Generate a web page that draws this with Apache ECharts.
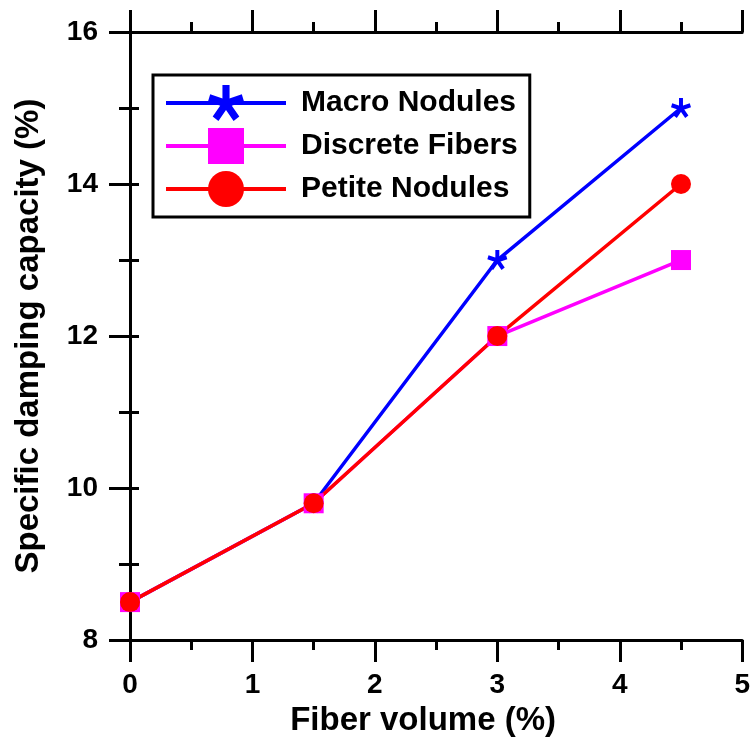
<!DOCTYPE html>
<html><head><meta charset="utf-8">
<script src="https://cdn.jsdelivr.net/npm/echarts@6/dist/echarts.min.js"></script>
<style>html,body{margin:0;padding:0;background:#fff}#c{width:753px;height:742px}</style>
</head><body><div id="c"></div>
<script>
const fiberVolume = [0, 1.5, 3, 4.5];
const macroNodules = [8.5, 9.8, 13, 15];
const discreteFibers = [8.5, 9.8, 12, 13];
const petiteNodules = [8.5, 9.8, 12, 14];
const seriesNames = ['Macro Nodules', 'Discrete Fibers', 'Petite Nodules'];

const star = 'path://M12 12.5L12 0L8 0L8 12.5Z' +
  'M8.24 12.675L20.129 8.812L18.893 5.008L7.004 8.871Z' +
  'M6.912 9.153L14.26 19.266L17.496 16.914L10.148 6.801Z' +
  'M9.852 6.801L2.504 16.914L5.74 19.266L13.088 9.153Z' +
  'M12.996 8.871L1.107 5.008L-0.129 8.812L11.76 12.675Z';
const F = '"Liberation Sans", Arial, sans-serif';
const pts = v => fiberVolume.map((x, i) => [x, v[i]]);
const axLine = {show: true, lineStyle: {color: '#000', width: 3}};
const lbl = {fontFamily: F, fontWeight: 'bold', fontSize: 28, color: '#000'};
const ttl = {fontFamily: F, fontWeight: 'bold', fontSize: 33, color: '#000'};

const chart = echarts.init(document.getElementById('c'));
chart.setOption({
  animation: false,
  backgroundColor: '#fff',
  grid: {left: 130, right: 8, top: 32, bottom: 99},
  legend: {
    orient: 'vertical', left: 153, top: 75,
    padding: [10, 12, 10, 11],
    borderColor: '#000', borderWidth: 3,
    itemWidth: 120, itemHeight: 45, itemGap: 7,
    lineStyle: {width: 4},
    data: seriesNames,
    textStyle: {fontFamily: F, fontWeight: 'bold', fontSize: 30, color: '#000', padding: [0, 0, 0, 10]}
  },
  xAxis: [{
    type: 'value', min: 0, max: 5, interval: 1, position: 'bottom',
    name: 'Fiber volume (%)', nameLocation: 'middle', nameGap: 58,
    nameTextStyle: Object.assign({padding: [0, 26, 0, 0]}, ttl),
    axisLine: axLine, axisTick: {show: true, length: 22, lineStyle: {color: '#000', width: 3}},
    minorTick: {show: true, splitNumber: 2, length: 10, lineStyle: {color: '#000', width: 3}},
    axisLabel: Object.assign({margin: 31}, lbl),
    splitLine: {show: false}
  }, {
    type: 'value', min: 0, max: 5, interval: 1, position: 'top',
    axisLine: axLine, axisTick: {show: true, length: 22, lineStyle: {color: '#000', width: 3}},
    minorTick: {show: true, splitNumber: 2, length: 10, lineStyle: {color: '#000', width: 3}},
    axisLabel: {show: false}, splitLine: {show: false}
  }],
  yAxis: [{
    type: 'value', min: 8, max: 16, interval: 2, position: 'left',
    name: 'Specific damping capacity (%)', nameLocation: 'middle', nameGap: 85,
    nameTextStyle: ttl,
    axisLine: axLine, axisTick: {show: true, length: 21, lineStyle: {color: '#000', width: 3}},
    minorTick: {show: true, splitNumber: 2, length: 11, lineStyle: {color: '#000', width: 3}},
    axisLabel: Object.assign({margin: 32}, lbl),
    splitLine: {show: false}
  }, {
    type: 'value', min: 8, max: 16, interval: 2, position: 'right',
    axisLine: axLine, axisTick: {show: true, length: 9, lineStyle: {color: '#000', width: 3}},
    minorTick: {show: true, splitNumber: 2, length: 9, lineStyle: {color: '#000', width: 3}},
    axisLabel: {show: false}, splitLine: {show: false}
  }],
  series: [{
    name: seriesNames[0], type: 'line', data: pts(macroNodules),
    symbol: star, symbolSize: 20, color: '#0000ff',
    lineStyle: {color: '#0000ff', width: 3.5}, itemStyle: {color: '#0000ff'}
  }, {
    name: seriesNames[1], type: 'line', data: pts(discreteFibers),
    symbol: 'rect', symbolSize: 20, color: '#ff00ff',
    lineStyle: {color: '#ff00ff', width: 3.5}, itemStyle: {color: '#ff00ff'}
  }, {
    name: seriesNames[2], type: 'line', data: pts(petiteNodules),
    symbol: 'circle', symbolSize: 20, color: '#ff0000',
    lineStyle: {color: '#ff0000', width: 3.5}, itemStyle: {color: '#ff0000'}
  }]
});
</script></body></html>
